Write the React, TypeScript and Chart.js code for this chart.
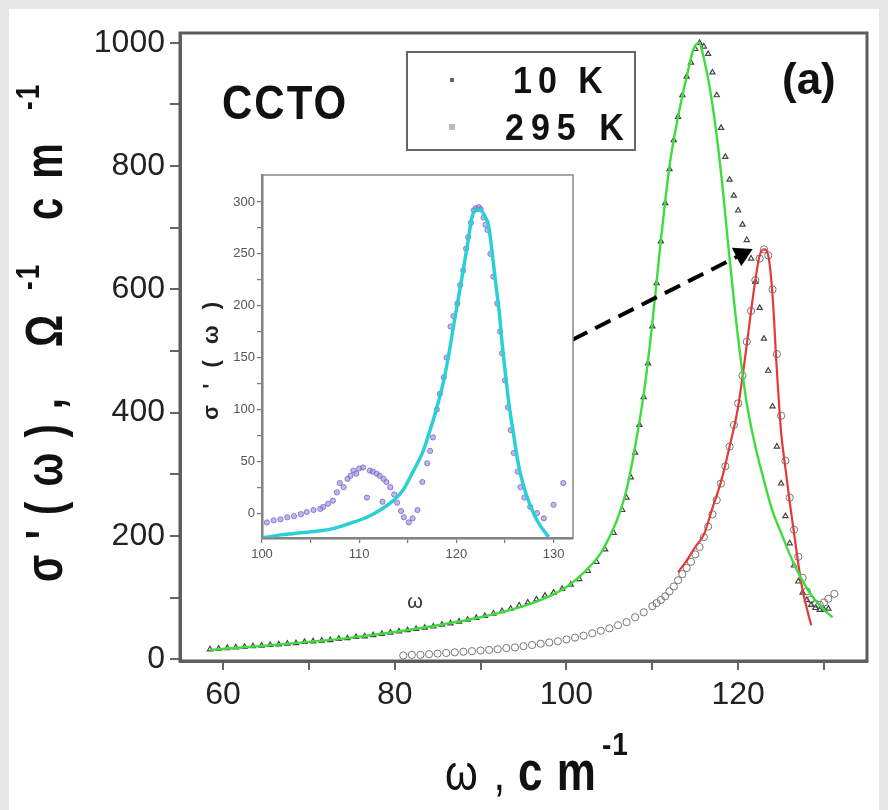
import React, { useEffect, useRef } from 'react';
import { Chart, registerables } from 'chart.js';

Chart.register(...registerables);

// ---------- main panel data (σ'(ω), Ω^-1 cm^-1 vs ω, cm^-1) ----------
const x10K = [58.5,59.5,60.5,61.5,62.5,63.5,64.5,65.5,66.5,67.5,68.5,69.5,70.5,71.5,72.5,73.5,74.5,75.5,76.5,77.5,78.5,79.5,80.5,81.5,82.5,83.5,84.5,85.5,86.5,87.5,88.5,89.5,90.5,91.5,92.5,93.5,94.5,95.5,96.5,97.5,98.5,99.5,100.5,101.5,102.5,103.5,104.5,105.5,106.5,107,107.5,108,108.5,109,109.5,110,110.5,111,111.5,112,112.5,113,113.5,114,114.5,115,115.5,116,116.5,117,117.5,118,118.5,119,119.5,120,120.5,121,121.5,122,122.5,123,123.5,124,124.5,125,125.5,126,126.5,127,127.5,128,128.5,129,129.5,130,130.5];
const y10K = [16,17,18,19,20,21,22,23,24,25,26,28,29,30,31,33,34,36,37,39,41,43,45,47,49,51,53,56,58,61,64,67,70,74,78,82,87,92,97,103,108,114,121,130,143,158,178,205,242,262,295,335,380,425,480,540,610,678,740,795,842,880,915,945,968,990,1000,994,982,952,915,862,815,778,752,728,705,680,650,612,570,520,468,410,345,285,232,188,152,126,108,96,88,83,80,80,82];

const x295K = [81,82,83,84,85,86,87,88,89,90,91,92,93,94,95,96,97,98,99,100,101,102,103,104,105,106,107,108,109,110,110.5,111,111.5,112,112.5,113,113.5,114,114.5,115,115.5,116,116.5,117,117.5,118,118.5,119,119.5,120,120.5,121,121.5,122,122.5,123,123.5,124,124.5,125,125.5,126,126.5,127,127.5,128,128.5,129,129.5,130,130.5,131.2];
const y295K = [6,7,7,8,9,10,11,12,13,14,15,16,18,19,21,23,25,27,29,32,35,38,42,46,50,55,60,68,76,86,91,96,102,110,118,128,138,148,158,170,182,198,215,235,258,285,313,345,380,415,460,515,565,615,650,665,655,600,495,395,322,262,210,166,132,110,97,90,88,92,98,106];

const xFit10K = [58.5,65,70,75,80,85,90,95,98,100,102,104,105,106,107,108,109,110,111,112,113,114,114.8,115.4,116,117,118,119,120,121,122,123,124,125,126,127,128,129,130,131];
const yFit10K = [15,22,28,35,44,55,68,86,102,117,140,172,198,230,275,345,430,545,680,800,880,945,990,1000,975,900,790,650,520,415,345,290,240,205,170,140,115,95,80,68];

const xFit295K = [113,114,115,116,117,118,119,120,121,121.5,122,122.5,123,123.5,124,124.5,125,125.5,126,126.5,127,127.5,128,128.5];
const yFit295K = [141,160,182,202,245,288,345,410,510,565,615,655,665,655,590,470,368,310,255,205,155,112,82,55];

const arrowX = [100.65, 120.44];
const arrowY = [518, 657];

const xMainTicks = [60, 70, 80, 90, 100, 110, 120, 130];
const yMainTicks = [0, 100, 200, 300, 400, 500, 600, 700, 800, 900, 1000];

// ---------- inset data ----------
const xInset = [100.5,101.2,101.9,102.6,103.3,104,104.6,105.3,106,106.3,106.8,107.3,107.7,108,108.4,108.8,109.1,109.4,109.7,110,110.4,110.8,111.1,111.4,111.8,112.1,112.4,112.5,112.8,113.2,113.6,113.9,114.3,114.6,115.1,115.5,116,116.5,117,117.3,117.6,118,118.3,118.7,119,119.4,119.7,120.1,120.4,120.7,121,121.2,121.5,121.8,122,122.3,122.5,122.8,123,123.2,123.5,123.8,124.2,124.5,124.7,125,125.3,125.6,125.9,126.3,126.6,127,127.6,128.3,129,130,131];
const yInset = [-9,-7,-6,-4,-3,-1,1,3,4,6,9,12,20,29,25,33,36,41,38,43,44,15,41,40,38,36,11,33,30,25,18,10,2,-4,-9,-5,3,30,48,60,73,100,115,131,150,180,190,202,220,234,255,266,280,292,294,295,293,285,278,273,250,228,202,175,154,128,102,80,58,40,25,15,6,0,-5,8,29];

const xInsetFit = [100,102,104,106,107.3,109,110.8,112,113.5,114.5,115.6,116.5,117.3,118,118.7,119.2,119.7,120.2,120.7,121.2,121.6,122,122.5,123,123.3,123.7,124,124.4,124.7,125.1,125.4,125.9,126.3,126.8,127.3,127.8,128.3,129,129.5];
const yInsetFit = [-24,-21,-19,-17,-15,-10,-4,2,12,22,41,58,80,102,128,152,180,207,234,262,285,292,292,285,278,250,225,195,164,130,106,75,51,30,15,3,-7,-17,-23];

const xInsetTicks = [100, 105, 110, 115, 120, 125, 130];
const yInsetTicks = [0, 25, 50, 75, 100, 125, 150, 175, 200, 225, 250, 275, 300];

const NARROW = "'Liberation Sans Narrow', 'Liberation Sans', Arial, sans-serif";
const SANS = "'Liberation Sans', Arial, sans-serif";

const toPts = (xs: number[], ys: number[]) => xs.map((x, i) => ({ x, y: ys[i] }));

function txt(ctx: any, text: string, x: number, y: number, font: string, spacing: number, sy = 1) {
  ctx.save();
  ctx.font = font;
  ctx.letterSpacing = spacing + 'px';
  ctx.translate(x, y);
  ctx.scale(1, sy);
  ctx.fillText(text, 0, 0);
  ctx.restore();
}

const mainDecor = {
  id: 'mainDecor',
  beforeDraw(chart: any) {
    const { ctx, width, height } = chart;
    ctx.save();
    ctx.fillStyle = '#e7e7e7';
    ctx.fillRect(0, 0, width, height);
    ctx.fillStyle = '#ffffff';
    ctx.fillRect(9, 9, 870, height - 9);
    ctx.restore();
  },
  afterDraw(chart: any) {
    const { ctx, chartArea: a } = chart;
    ctx.save();
    ctx.strokeStyle = '#5c5c5c';
    ctx.lineWidth = 3;
    ctx.strokeRect(a.left, a.top, a.right - a.left, a.bottom - a.top);
    ctx.fillStyle = '#111';
    ctx.textBaseline = 'alphabetic';
    txt(ctx, 'CCTO', 222, 119, `bold 42px ${SANS}`, 2, 1.15);
    txt(ctx, '(a)', 782, 94, `bold 44px ${SANS}`, 0, 1);
    // legend
    ctx.strokeStyle = '#666';
    ctx.lineWidth = 2;
    ctx.strokeRect(407, 52, 228, 98);
    ctx.fillStyle = '#666';
    ctx.fillRect(450, 78, 4, 4);
    ctx.fillStyle = '#bbb';
    ctx.fillRect(449, 124, 6, 6);
    ctx.fillStyle = '#111';
    txt(ctx, '10 K', 513, 93, `bold 34px ${SANS}`, 6, 1.08);
    txt(ctx, '295 K', 505, 140, `bold 34px ${SANS}`, 7, 1.08);
    // x title
    txt(ctx, 'ω ,', 445, 790, `42px ${SANS}`, 2, 1.2);
    txt(ctx, 'c m', 518, 790, `bold 44px ${SANS}`, 1, 1.25);
    txt(ctx, '-1', 602, 755, `bold 28px ${SANS}`, 1, 1.1);
    // y title
    ctx.save();
    ctx.translate(62, 582);
    ctx.rotate(-Math.PI / 2);
    ctx.scale(1, 1.3);
    txt(ctx, "σ ' ( ω ) ,", 0, 0, `bold 40px ${SANS}`, 2);
    txt(ctx, 'Ω', 235, 0, `bold 40px ${SANS}`, 0);
    txt(ctx, '-1', 292, -18, `bold 26px ${SANS}`, 2);
    txt(ctx, 'c m', 362, 0, `bold 40px ${SANS}`, 4);
    txt(ctx, '-1', 472, -18, `bold 26px ${SANS}`, 2);
    ctx.restore();
    ctx.restore();
  },
};

const insetDecor = {
  id: 'insetDecor',
  beforeDraw(chart: any) {
    const { ctx, chartArea: a } = chart;
    ctx.save();
    ctx.fillStyle = '#ffffff';
    ctx.fillRect(a.left, a.top, a.right - a.left, a.bottom - a.top);
    ctx.restore();
  },
  afterDraw(chart: any) {
    const { ctx, chartArea: a } = chart;
    ctx.save();
    ctx.strokeStyle = '#888';
    ctx.lineWidth = 1.5;
    ctx.strokeRect(a.left, a.top, a.right - a.left, a.bottom - a.top);
    ctx.fillStyle = '#222';
    ctx.save();
    ctx.translate(28, 260);
    ctx.rotate(-Math.PI / 2);
    txt(ctx, "σ ' ( ω )", 0, 0, `bold 22px ${SANS}`, 5);
    ctx.restore();
    ctx.fillStyle = '#333';
    ctx.textAlign = 'center';
    txt(ctx, 'ω', 225, 448, `20px ${SANS}`, 0);
    ctx.restore();
  },
};

export default function App() {
  const mainRef = useRef<HTMLCanvasElement | null>(null);
  const insetRef = useRef<HTMLCanvasElement | null>(null);

  useEffect(() => {
    if (!mainRef.current || !insetRef.current) return;
    const main = new Chart(mainRef.current, {
      type: 'scatter',
      data: {
        datasets: [
          {
            label: 'arrow',
            data: toPts(arrowX, arrowY),
            showLine: true,
            borderColor: '#000',
            borderWidth: 4,
            borderDash: [17, 9],
            pointRadius: [0, 12],
            pointStyle: 'triangle',
            pointRotation: 63.4,
            pointBackgroundColor: '#000',
            pointBorderWidth: 0,
          } as any,
          {
            label: 'fit 10 K',
            data: toPts(xFit10K, yFit10K),
            showLine: true,
            borderColor: '#3fdc3f',
            borderWidth: 2.4,
            pointRadius: 0,
            cubicInterpolationMode: 'monotone',
          },
          {
            label: 'fit 295 K',
            data: toPts(xFit295K, yFit295K),
            showLine: true,
            borderColor: '#e03a3a',
            borderWidth: 2.2,
            pointRadius: 0,
            cubicInterpolationMode: 'monotone',
          },
          {
            label: '10 K',
            data: toPts(x10K, y10K),
            pointStyle: 'triangle',
            pointRadius: 3,
            borderColor: '#444',
            backgroundColor: 'rgba(0,0,0,0)',
            borderWidth: 1.2,
          },
          {
            label: '295 K',
            data: toPts(x295K, y295K),
            pointStyle: 'circle',
            pointRadius: 3.6,
            borderColor: '#777',
            backgroundColor: 'rgba(0,0,0,0)',
            borderWidth: 1,
          },
        ],
      },
      options: {
        animation: false,
        responsive: false,
        events: [],
        layout: { padding: { left: 8, top: 33, right: 21, bottom: 0 } },
        plugins: { legend: { display: false }, tooltip: { enabled: false } },
        scales: {
          x: {
            type: 'linear',
            min: 55,
            max: 135,
            afterBuildTicks: (ax: any) => { ax.ticks = xMainTicks.map((v) => ({ value: v })); },
            afterFit: (s: any) => { s.height = 149; },
            grid: { drawOnChartArea: false, tickLength: 9, color: '#666', lineWidth: 2 },
            border: { color: '#666', width: 3 },
            ticks: {
              autoSkip: false, maxRotation: 0, padding: 6, color: '#222',
              font: { family: NARROW, size: 32 },
              callback: (v: any) => (v % 20 === 0 ? String(v) : ''),
            },
          },
          y: {
            type: 'linear',
            min: -3,
            max: 1016,
            afterBuildTicks: (ax: any) => { ax.ticks = yMainTicks.map((v) => ({ value: v })); },
            afterFit: (s: any) => { s.width = 172; },
            grid: { drawOnChartArea: false, tickLength: 10, color: '#666', lineWidth: 2 },
            border: { color: '#666', width: 3 },
            ticks: {
              autoSkip: false, padding: 5, color: '#222',
              font: { family: NARROW, size: 32 },
              callback: (v: any) => (v % 200 === 0 ? String(v) : ''),
            },
          },
        },
      },
      plugins: [mainDecor],
    });

    const inset = new Chart(insetRef.current, {
      type: 'scatter',
      data: {
        datasets: [
          {
            label: 'fit',
            data: toPts(xInsetFit, yInsetFit),
            showLine: true,
            borderColor: '#2ccfd6',
            borderWidth: 3.5,
            pointRadius: 0,
            cubicInterpolationMode: 'monotone',
          },
          {
            label: 'data',
            data: toPts(xInset, yInset),
            pointStyle: 'circle',
            pointRadius: 2.6,
            borderColor: 'rgba(120,105,200,0.8)',
            backgroundColor: 'rgba(140,125,215,0.55)',
            borderWidth: 1,
          },
        ],
      },
      options: {
        animation: false,
        responsive: false,
        events: [],
        layout: { padding: { left: 0, top: 15, right: 17, bottom: 0 } },
        plugins: { legend: { display: false }, tooltip: { enabled: false } },
        scales: {
          x: {
            type: 'linear',
            min: 100,
            max: 132,
            afterBuildTicks: (ax: any) => { ax.ticks = xInsetTicks.map((v) => ({ value: v })); },
            afterFit: (s: any) => { s.height = 82; },
            grid: { drawOnChartArea: false, tickLength: 5, color: '#777', lineWidth: 1.2 },
            border: { color: '#777', width: 2.5 },
            ticks: {
              autoSkip: false, maxRotation: 0, padding: 4, color: '#555',
              font: { family: NARROW, size: 13 },
              callback: (v: any) => (v % 10 === 0 ? String(v) : ''),
            },
          },
          y: {
            type: 'linear',
            min: -24,
            max: 326,
            afterBuildTicks: (ax: any) => { ax.ticks = yInsetTicks.map((v) => ({ value: v })); },
            afterFit: (s: any) => { s.width = 72; },
            grid: { drawOnChartArea: false, tickLength: 5, color: '#777', lineWidth: 1.2 },
            border: { color: '#777', width: 2.5 },
            ticks: {
              autoSkip: false, padding: 2, color: '#555',
              font: { family: NARROW, size: 13 },
              callback: (v: any) => (v % 50 === 0 ? String(v) : ''),
            },
          },
        },
      },
      plugins: [insetDecor],
    });

    return () => {
      main.destroy();
      inset.destroy();
    };
  }, []);

  return (
    <div style={{ position: 'absolute', left: 0, top: 0, width: 888, height: 810, overflow: 'hidden' }}>
      <canvas ref={mainRef} width={888} height={810} style={{ position: 'absolute', left: 0, top: 0, width: 888, height: 810 }} />
      <canvas ref={insetRef} width={400} height={460} style={{ position: 'absolute', left: 190, top: 160, width: 400, height: 460 }} />
    </div>
  );
}
